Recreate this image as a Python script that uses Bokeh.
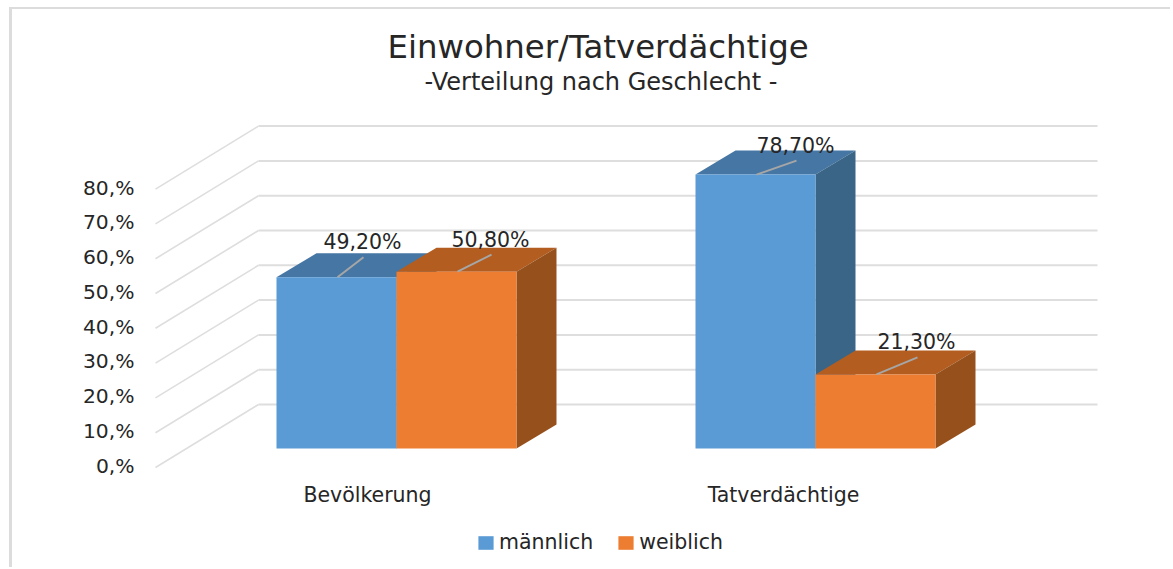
from bokeh.plotting import figure
from bokeh.embed import file_html
from bokeh.resources import INLINE
from bokeh.models import Range1d, LinearAxis, FixedTicker, Title, Legend, LegendItem
from bokeh.core.properties import value

# ---- data
categories = ["Bevölkerung", "Tatverdächtige"]
maennlich = [49.2, 78.7]
weiblich = [50.8, 21.3]
maennlich_labels = ["49,20%", "78,70%"]
weiblich_labels = ["50,80%", "21,30%"]
tick_values = [0, 10, 20, 30, 40, 50, 60, 70, 80]
tick_labels = ["0,%", "10,%", "20,%", "30,%", "40,%", "50,%", "60,%", "70,%", "80,%"]
series_names = ["männlich", "weiblich"]

# ---- layout (page pixels)
FONT = "DejaVu Sans"
TEXT = "#262626"
ORIGIN_X, ORIGIN_Y = 12, 9       # where the canvas starts, after the picture's frame edges
PAGE_W, PAGE_H = 1173, 569
W, H = PAGE_W - ORIGIN_X, PAGE_H - ORIGIN_Y
F_T = 95
PX = 3.48                 # pixels per percent
BASE = 448                # page y of value 0 on the bars' front plane
DX, DY = 40, 24 / PX      # bar depth
GDX, GDY = 103, 63 / PX   # wall depth
WALL_L = 155
WALL_R = 1097
WALL_BASE = (BASE - 467) / PX
GROUP_L = [276, 695]
BAR_W = 120
CAT_X = [367, 783]

p = figure(width=W, height=H, output_backend="svg", toolbar_location=None,
           x_range=Range1d(ORIGIN_X, PAGE_W),
           y_range=Range1d((BASE - PAGE_H) / PX, (BASE - F_T) / PX),
           min_border_left=0, min_border_right=0,
           min_border_top=F_T - ORIGIN_Y, min_border_bottom=0,
           background_fill_color="white", border_fill_color="white",
           outline_line_color=None, y_axis_location=None, x_axis_location=None)
p.xgrid.visible = False
p.ygrid.visible = False

# ---- frame edges of the picture
p.margin = (ORIGIN_Y - 2, 0, 0, ORIGIN_X - 3)
p.styles = {"border-left": "3px solid #dcdcdc", "border-top": "2px solid #dcdcdc"}

# ---- titles
sub = Title(text="-Verteilung nach Geschlecht -", align="left", offset=424 - ORIGIN_X, text_font=FONT,
            text_font_size="24px", text_font_style="normal", text_color=TEXT, standoff=0)
main = Title(text="Einwohner/Tatverdächtige", align="left", offset=387 - ORIGIN_X, text_font=FONT,
             text_font_size="32.4px", text_font_style="normal", text_color=TEXT, standoff=0)
p.add_layout(sub, "above")
p.add_layout(main, "above")

# ---- walls
wall_y = [WALL_BASE + t + GDY for t in tick_values]
p.segment(x0=[WALL_L + GDX] * 9, y0=wall_y, x1=[WALL_R] * 9, y1=wall_y, line_color="#dedede", line_width=2)
p.segment(x0=[WALL_L] * 9, y0=[WALL_BASE + t for t in tick_values], x1=[WALL_L + GDX] * 9, y1=wall_y,
          line_color="#dedede", line_width=1.6)


def box(values, lefts, front, top, side):
    tx, ty, sx, sy = [], [], [], []
    for v, l in zip(values, lefts):
        r = l + BAR_W
        tx.append([l, l + DX, r + DX, r])
        ty.append([v, v + DY, v + DY, v])
        sx.append([r, r + DX, r + DX, r])
        sy.append([0, DY, v + DY, v])
    p.patches(tx, ty, fill_color=top, line_color=None)
    p.patches(sx, sy, fill_color=side, line_color=None)
    return p.quad(left=lefts, right=[l + BAR_W for l in lefts], bottom=[0] * len(lefts), top=values,
                  fill_color=front, line_color=None)


male_l = GROUP_L
female_l = [l + BAR_W for l in GROUP_L]
r_m = box(maennlich, male_l, "#5b9bd5", "#4676a3", "#3a6587")
r_f = box(weiblich, female_l, "#ed7d31", "#b35e20", "#96501c")

# ---- data labels and leaders
vals = maennlich + weiblich
anchors = [l + 61 for l in male_l] + [l + 61 for l in female_l]
ends = [26, 40, 34, 41]
rises = [20, 14, 17, 17]
p.segment(x0=anchors, y0=vals, x1=[a + e for a, e in zip(anchors, ends)],
          y1=[v + r / PX for v, r in zip(vals, rises)], line_color="#a6a6a6", line_width=2)
p.text(x=[a + e - 1 for a, e in zip(anchors, ends)],
       y=[v + (r + 15) / PX for v, r in zip(vals, rises)],
       text=maennlich_labels + weiblich_labels, text_font=value(FONT), text_font_size="20.5px",
       text_align="center", text_baseline="middle", text_color=TEXT)

# ---- value axis
p.extra_y_ranges["wert"] = Range1d((465 - PAGE_H) / 3.475, (465 - F_T) / 3.475)
ax = LinearAxis(y_range_name="wert", ticker=FixedTicker(ticks=tick_values), fixed_location=134,
                major_label_overrides=dict(zip(tick_values, tick_labels)),
                axis_line_color=None, major_tick_line_color=None, minor_tick_line_color=None,
                major_tick_in=0, major_tick_out=0, major_label_standoff=0,
                major_label_text_font=FONT, major_label_text_font_size="20.3px",
                major_label_text_color=TEXT)
p.add_layout(ax, "left")

# ---- category axis
xa = LinearAxis(ticker=FixedTicker(ticks=CAT_X), major_label_overrides=dict(zip(CAT_X, categories)),
                fixed_location=(BASE - 482) / PX,
                axis_line_color=None, major_tick_line_color=None, minor_tick_line_color=None,
                major_tick_in=0, major_tick_out=0, major_label_standoff=0,
                major_label_text_font=FONT, major_label_text_font_size="20.5px",
                major_label_text_color=TEXT)
p.add_layout(xa, "below")

# ---- legend
leg = Legend(items=[LegendItem(label=series_names[0], renderers=[r_m]),
                    LegendItem(label=series_names[1], renderers=[r_f])],
             orientation="horizontal", location=(478 - ORIGIN_X - 4 + 2, PAGE_H - 554), border_line_color=None,
             background_fill_alpha=0, label_text_font=FONT, label_text_font_size="20.5px",
             label_text_color=TEXT, glyph_width=19, glyph_height=17, spacing=23, label_standoff=4,
             margin=0, padding=4)
p.add_layout(leg, "center")

open("out.html", "w").write(file_html(p, INLINE))
